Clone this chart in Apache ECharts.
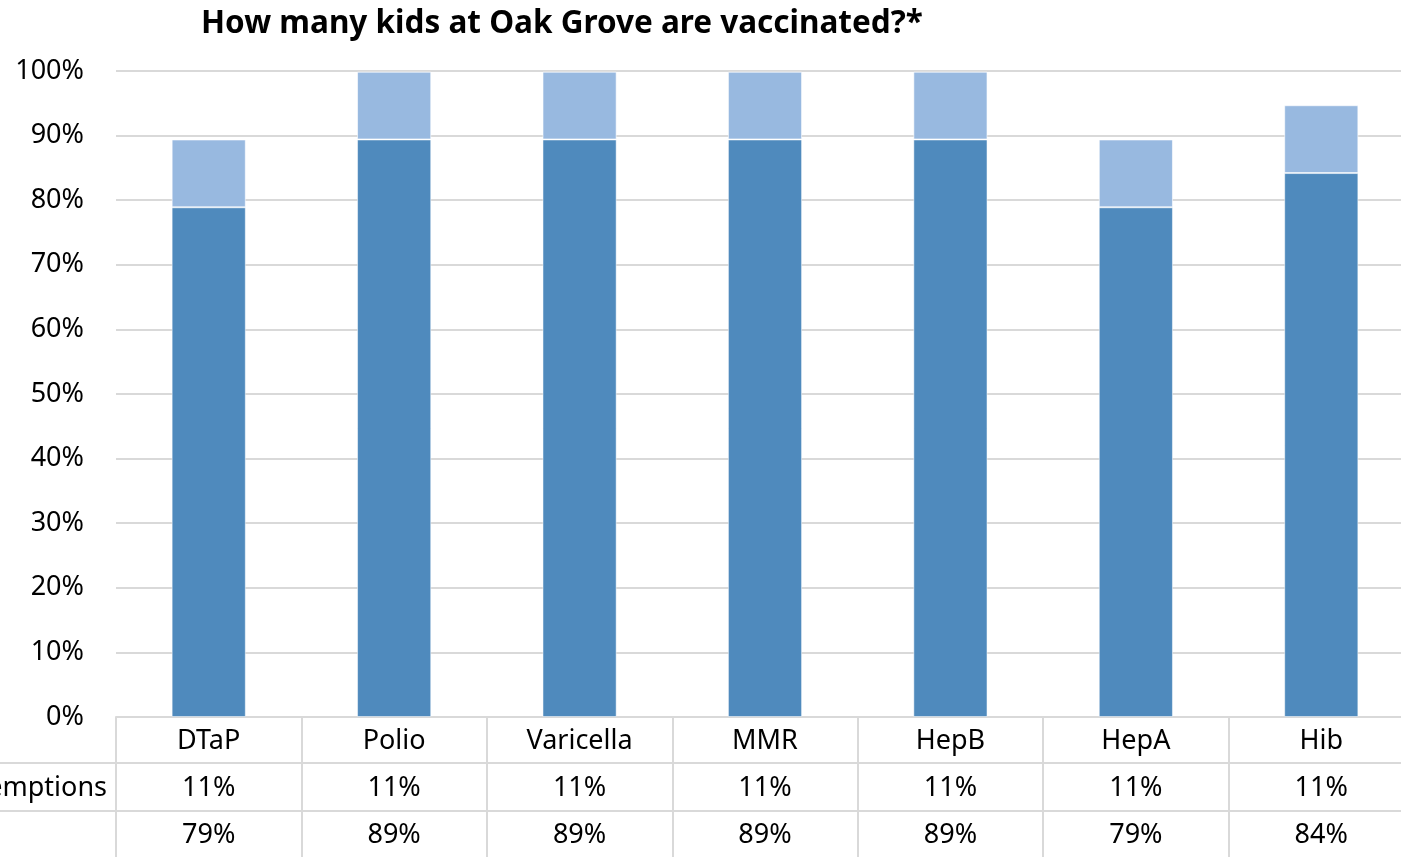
<!DOCTYPE html>
<html>
<head>
<meta charset="utf-8">
<script src="https://cdn.jsdelivr.net/npm/echarts@6/dist/echarts.min.js"></script>
<style>
html,body{margin:0;padding:0;overflow:hidden;background:#fff;width:1401px;height:857px;}
#chart{width:1414px;height:857px;}
</style>
</head>
<body>
<div id="chart"></div>
<script>
const title = 'How many kids at Oak Grove are vaccinated?*';
const categories = ['DTaP', 'Polio', 'Varicella', 'MMR', 'HepB', 'HepA', 'Hib'];
const exemptions = [10.5, 10.5, 10.5, 10.5, 10.5, 10.5, 10.5];
const upToDate = [78.9, 89.4, 89.4, 89.4, 89.4, 78.9, 84.2];
const rowLabels = ['Exemptions', ''];
const yTicks = [0, 10, 20, 30, 40, 50, 60, 70, 80, 90, 100];

const FONT = '"Noto Sans", "Open Sans", sans-serif';
const FS = 27;
const chart = echarts.init(document.getElementById('chart'));
const pct = v => Math.round(v) + '%';

chart.setOption({
  animation: false,
  title: {
    text: title,
    left: 196, top: 3,
    textStyle: {fontFamily: FONT, fontWeight: 'bold', fontSize: 31.5, color: '#000'}
  },
  grid: {left: 116, right: 0, top: 71, bottom: 140, containLabel: false, outerBoundsMode: 'none'},
  xAxis: {
    type: 'category',
    data: categories,
    axisLine: {show: true, lineStyle: {color: '#d9d9d9', width: 2}},
    axisTick: {show: true, length: 140, alignWithLabel: false, lineStyle: {color: '#d9d9d9', width: 2}},
    axisLabel: {
      margin: 1,
      interval: 0,
      fontFamily: FONT, fontSize: FS, color: '#000',
      lineHeight: 47,
      formatter: (v, i) => v + '\n' + pct(exemptions[i]) + '\n' + pct(upToDate[i])
    }
  },
  yAxis: {
    type: 'value',
    min: yTicks[0], max: yTicks[yTicks.length - 1], interval: 10,
    axisLine: {show: false}, axisTick: {show: false},
    splitLine: {lineStyle: {color: '#d9d9d9', width: 2}},
    axisLabel: {margin: 32, fontFamily: FONT, fontSize: FS, color: '#000', formatter: v => v + '%'}
  },
  series: [
    {
      name: 'Up to date', type: 'bar', stack: 'v', barWidth: '40%',
      data: upToDate,
      itemStyle: {color: '#4f8abd', borderColor: 'rgba(255,255,255,0.5)', borderWidth: 1}
    },
    {
      name: 'Exemptions', type: 'bar', stack: 'v', barWidth: '40%',
      data: exemptions,
      itemStyle: {color: '#98b9e0', borderColor: 'rgba(255,255,255,0.6)', borderWidth: 1}
    }
  ],
  graphic: [
    {type: 'line', shape: {x1: 0, y1: 763, x2: 1414, y2: 763}, style: {stroke: '#d9d9d9', lineWidth: 2}},
    {type: 'line', shape: {x1: 0, y1: 811, x2: 1414, y2: 811}, style: {stroke: '#d9d9d9', lineWidth: 2}},
    {type: 'text', x: 107, y: 788, style: {text: rowLabels[0], align: 'right', verticalAlign: 'middle', font: FS + 'px ' + FONT, fill: '#000'}},
    {type: 'text', x: 107, y: 835, style: {text: rowLabels[1], align: 'right', verticalAlign: 'middle', font: FS + 'px ' + FONT, fill: '#000'}}
  ]
});
</script>
</body>
</html>
